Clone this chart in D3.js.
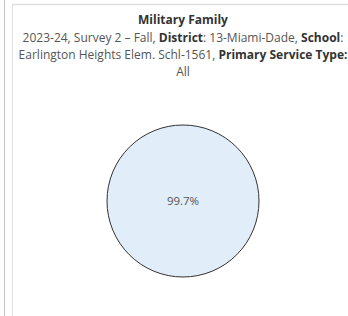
<!DOCTYPE html>
<html>
<head>
<meta charset="utf-8">
<script src="https://cdn.jsdelivr.net/npm/d3@7"></script>
<style>
  body { margin: 0; background: #fff; }
  svg { display: block; font-family: "Open Sans", "Noto Sans", sans-serif; }
</style>
</head>
<body>
<div id="chart"></div>
<script>
// chart values
const categories = ["Military Family"];
const values = [99.7];
const labels = ["99.7%"];

const title = "Military Family";
// subtitle lines: [text, bold] pieces
const subtitleLines = [
  [["2023-24, Survey 2 \u2013 Fall, ", false], ["District", true], [": 13-Miami-Dade, ", false], ["School", true], [":", false]],
  [["Earlington Heights Elem. Schl-1561, ", false], ["Primary Service Type:", true]],
  [["All", false]]
];

const width = 348, height = 316;
const svg = d3.select("#chart").append("svg")
  .attr("width", width)
  .attr("height", height);

// panel borders
svg.append("line").attr("x1", 4.5).attr("x2", 4.5).attr("y1", 0).attr("y2", height)
  .attr("stroke", "#c4c4c4").attr("stroke-width", 1);
svg.append("line").attr("x1", 12.5).attr("x2", 12.5).attr("y1", 4).attr("y2", height)
  .attr("stroke", "#e0e0e0").attr("stroke-width", 1);
svg.append("line").attr("x1", 12).attr("x2", width).attr("y1", 4.5).attr("y2", 4.5)
  .attr("stroke", "#e0e0e0").attr("stroke-width", 1.5);

const cx = 183;

// title
svg.append("text")
  .attr("x", cx).attr("y", 24)
  .attr("text-anchor", "middle")
  .attr("font-size", 12)
  .attr("font-weight", "bold")
  .attr("fill", "#333")
  .text(title);

subtitleLines.forEach((parts, i) => {
  const t = svg.append("text")
    .attr("x", cx).attr("y", 41.5 + i * 17)
    .attr("text-anchor", "middle")
    .attr("font-size", 12)
    .attr("fill", "#555");
  parts.forEach(p => {
    t.append("tspan")
      .attr("font-weight", p[1] ? "bold" : "normal")
      .attr("fill", p[1] ? "#333" : "#555")
      .text(p[0]);
  });
});

// pie
const radius = 76;
const pie = d3.pie().sort(null)(values);
const arc = d3.arc().innerRadius(0).outerRadius(radius);

const g = svg.append("g").attr("transform", `translate(${cx},201)`);
g.selectAll("path")
  .data(pie)
  .join("path")
  .attr("d", arc)
  .attr("fill", "#e1edf8")
  .attr("stroke", "#333")
  .attr("stroke-width", 1);

g.selectAll("text")
  .data(pie)
  .join("text")
  .attr("text-anchor", "middle")
  .attr("dy", "0.35em")
  .attr("font-size", 11.5)
  .attr("fill", "#555")
  .text((d, i) => labels[i]);
</script>
</body>
</html>
